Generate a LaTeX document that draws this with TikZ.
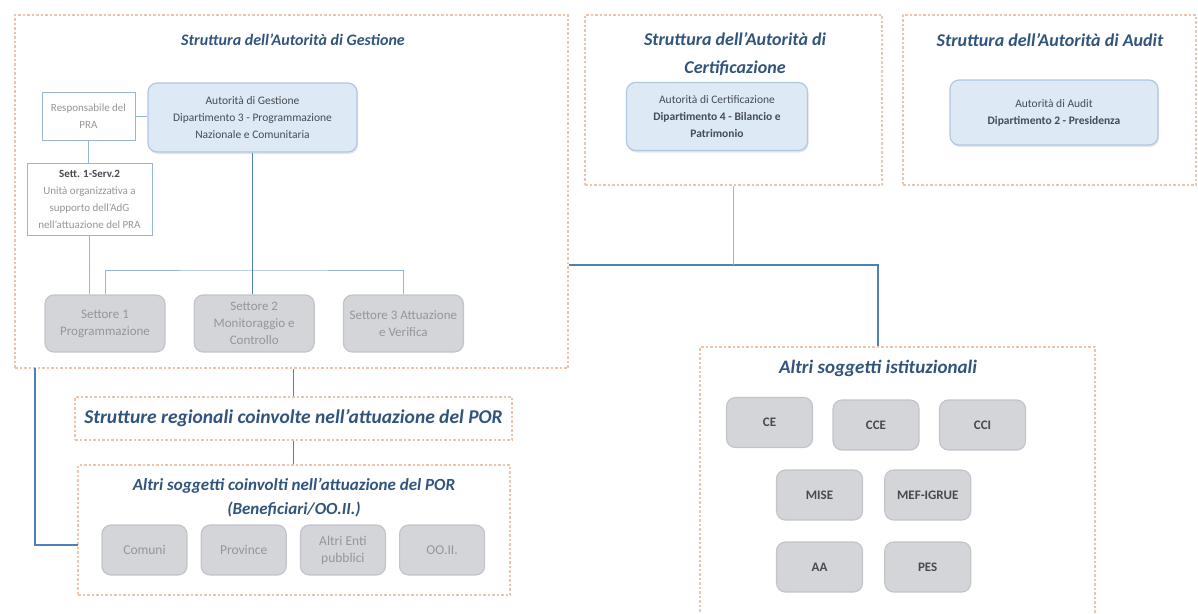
\documentclass[tikz,border=0pt]{standalone}
\usepackage{fontspec}
\setmainfont{Carlito}
\usepackage{xcolor}
\usepackage{tikz}
\usetikzlibrary{positioning,shadows}

\definecolor{titleblue}{RGB}{48,84,124}
\definecolor{framecol}{RGB}{236,196,170}
\definecolor{boxfill}{RGB}{221,233,245}
\definecolor{boxedge}{RGB}{176,200,226}
\definecolor{boxtext}{RGB}{70,76,86}
\definecolor{greyfill}{RGB}{212,213,216}
\definecolor{greyedge}{RGB}{194,196,202}
\definecolor{greytext}{RGB}{150,150,152}
\definecolor{darktext}{RGB}{72,74,80}
\definecolor{linkblue}{RGB}{78,128,186}
\definecolor{lightlink}{RGB}{150,182,218}

\newcommand{\tsize}[2]{\fontsize{#1}{#2}\selectfont\bfseries\itshape}

\begin{document}
\begin{tikzpicture}[
  x=1pt, y=-1pt,
  node distance=13pt and 13pt,
  frame/.style={draw=framecol, dash pattern=on 2.5pt off 2pt, line width=1.1pt, inner sep=0pt},
  title/.style={font=\tsize{18}{28}, text=titleblue, align=center},
  bluebox/.style={draw=boxedge, line width=1.2pt, rounded corners=9pt, fill=boxfill, align=center,
                  font=\fontsize{11.5}{17}\selectfont, text=boxtext,
                  drop shadow={opacity=0.2, shadow xshift=1pt, shadow yshift=-2pt}},
  greybox/.style={draw=greyedge, line width=1.2pt, rounded corners=9pt, fill=greyfill, align=center,
                  font=\fontsize{13}{17}\selectfont, text=greytext, inner sep=2pt},
  instbox/.style={greybox, font=\fontsize{13}{17}\selectfont\bfseries, text=darktext,
                  minimum width=86pt, minimum height=50pt},
  plainbox/.style={draw=lightlink, line width=0.6pt, fill=white, align=center,
                   font=\fontsize{11}{17}\selectfont, text=greytext, inner sep=1pt},
  link/.style={draw=linkblue, line width=1.8pt},
  midlink/.style={draw=linkblue, line width=1.2pt},
  faint/.style={draw=lightlink, line width=0.8pt}
]
\useasboundingbox (0,0) rectangle (1198,613);

% autorita di gestione
\node[frame, minimum width=553pt, minimum height=353pt] (adg) at (291.5,191.5) {};
\node[title, font=\tsize{16}{20}] (adgtitle) at (293,40) {Struttura dell'Autorità di Gestione};
\node[plainbox, minimum width=93pt, minimum height=48pt] (pra) at (88.5,116) {Responsabile del\\PRA};
\node[bluebox, minimum width=209pt, minimum height=69pt] (agb) at (252.5,117.5)
  {\textcolor{darktext}{Autorità di Gestione}\\Dipartimento 3 - Programmazione\\Nazionale e Comunitaria};
\node[plainbox, minimum width=125pt, minimum height=72pt] (sett) at (89.5,199)
  {\textbf{\textcolor{darktext}{Sett. 1-Serv.2}}\\Unità organizzativa a\\supporto dell'AdG\\nell'attuazione del PRA};
\node[greybox, minimum width=120pt, minimum height=57pt] (s1) at (105,323.5) {Settore 1\\Programmazione};
\node[greybox, minimum width=120pt, minimum height=57pt, right=28pt of s1] (s2) {Settore 2\\Monitoraggio e\\Controllo};
\node[greybox, minimum width=120pt, minimum height=57pt, right=28pt of s2] (s3) {Settore 3 Attuazione\\e Verifica};
\coordinate (bus) at (254,270);
\draw[faint] (pra.east) -- (pra.east -| agb.west);
\draw[faint] (pra.south) -- (pra.south |- sett.north);
\draw[faint] (sett.south) -- (sett.south |- s1.north);
\draw[faint] (s1.north) |- (bus) -| (s3.north);
\draw[midlink] (agb.south) -- (agb.south |- s2.north);

% certificazione e audit
\node[frame, minimum width=297pt, minimum height=170pt] (cert) at (733.5,100) {};
\node[title] (certtitle) at (735,54) {Struttura dell'Autorità di\\Certificazione};
\node[bluebox, minimum width=181pt, minimum height=68pt] (certbox) at (717,116.5)
  {Autorità di Certificazione\\\textbf{Dipartimento 4 - Bilancio e}\\\textbf{Patrimonio}};
\node[frame, minimum width=293pt, minimum height=170pt] (aud) at (1049.5,100) {};
\node[title] (audtitle) at (1050,40) {Struttura dell'Autorità di Audit};
\node[bluebox, minimum width=208pt, minimum height=65pt] (audbox) at (1054,112.5)
  {Autorità di Audit\\\textbf{Dipartimento 2 - Presidenza}};

% strutture regionali e altri soggetti
\node[frame, title, font=\tsize{19.5}{24}, minimum width=437pt, minimum height=43pt] (reg) at (293.5,418.5)
  {Strutture regionali coinvolte nell'attuazione del POR};
\node[frame, minimum width=432pt, minimum height=130pt] (altri) at (294,530) {};
\node[title, font=\tsize{17}{24}] (altrititle) at (294,498) {Altri soggetti coinvolti nell'attuazione del POR\\(Beneficiari/OO.II.)};
\node[greybox, font=\fontsize{13.5}{17}\selectfont, minimum width=85pt, minimum height=50pt] (com) at (144.5,550) {Comuni};
\node[greybox, font=\fontsize{13.5}{17}\selectfont, minimum width=85pt, minimum height=50pt, right=13pt of com] (prov) {Province};
\node[greybox, font=\fontsize{13.5}{17}\selectfont, minimum width=85pt, minimum height=50pt, right=13pt of prov] (enti) {Altri Enti\\pubblici};
\node[greybox, font=\fontsize{13.5}{17}\selectfont, minimum width=85pt, minimum height=50pt, right=13pt of enti] (ooii) {OO.II.};

% altri soggetti istituzionali
\node[frame, minimum width=395pt, minimum height=280pt] (inst) at (897.5,487) {};
\node[title, font=\tsize{19}{24}] (insttitle) at (878,368) {Altri soggetti istituzionali};
\node[instbox] (ce)  at (769.5,422.5) {CE};
\node[instbox] (cce) at (876,425) {CCE};
\node[instbox] (cci) at (982.5,425) {CCI};
\node[instbox] (mise) at (819.5,495) {MISE};
\node[instbox, right=21pt of mise] (mef) {MEF-IGRUE};
\node[instbox] (aa)  at (819.5,567) {AA};
\node[instbox, right=21pt of aa] (pes) {PES};

% collegamenti
\coordinate (jct) at (878,265);
\coordinate (lft) at (35,368);
\coordinate (lftend) at (78,545);
\draw[link] (adg.east |- jct) -- (jct) -- (jct |- inst.north);
\draw[faint] (cert.south) -- (cert.south |- jct);
\draw[midlink] (reg.north |- adg.south) -- (reg.north); \draw[midlink] (reg.south) -- (reg.south |- altri.north);
\draw[link] (lft) |- (lftend);
\end{tikzpicture}
\end{document}
